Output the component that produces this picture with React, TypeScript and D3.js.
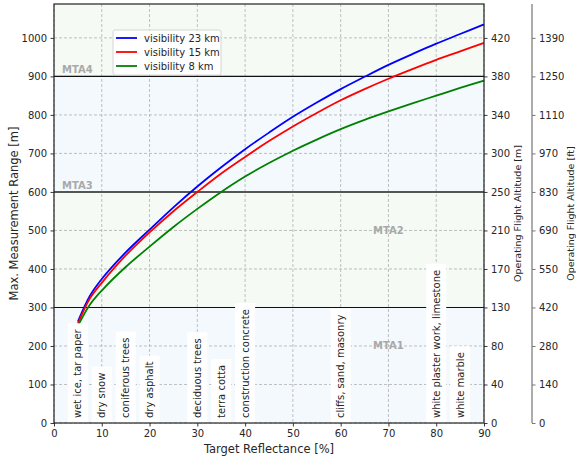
import React, { useRef, useEffect } from 'react'
import * as d3 from 'd3'

// target reflectance [%] and max. measurement range [m] per visibility
const reflectance = [5, 7.5, 10, 15, 20, 25, 30, 35, 40, 45, 50, 55, 60, 65, 70, 75, 80, 85, 90]
const range23km = [263, 330, 374, 443, 502, 560, 614, 664, 711, 754, 795, 832, 867, 899, 930, 958, 985, 1010, 1035]
const range15km = [258, 323, 364, 435, 495, 550, 600, 648, 691, 732, 770, 805, 838, 867, 894, 919, 943, 965, 987]
const range8km = [252, 307, 344, 405, 458, 509, 556, 600, 640, 675, 707, 736, 763, 787, 809, 830, 850, 870, 889]
const seriesLabels = ['visibility 23 km', 'visibility 15 km', 'visibility 8 km']
const seriesColors = ['#0000ff', '#ff0000', '#008000']

const rangeTicks = [0, 100, 200, 300, 400, 500, 600, 700, 800, 900, 1000]
const altitudeMLabels = ['0', '40', '80', '130', '170', '210', '250', '300', '340', '380', '420']
const altitudeFtLabels = ['0', '140', '280', '420', '550', '690', '830', '970', '1110', '1250', '1390']
const reflectanceTicks = [0, 10, 20, 30, 40, 50, 60, 70, 80, 90]

const mtaBoundaries = [300, 600, 900]
const mtaNames = ['MTA1', 'MTA2', 'MTA3', 'MTA4']

const materialNames = [
  'wet ice, tar paper',
  'dry snow',
  'coniferous trees',
  'dry asphalt',
  'deciduous trees',
  'terra cotta',
  'construction concrete',
  'cliffs, sand, masonry',
  'white plaster work, limestone',
  'white marble'
]
const materialReflectance = [5, 10, 15, 20, 30, 35, 40, 60, 80, 85]

const W = 576
const H = 461
const FONT = 'DejaVu Sans, sans-serif'
const TXT = '#262626'

export default function App() {
  const svgRef = useRef<SVGSVGElement>(null)

  useEffect(() => {
    const svg = d3.select(svgRef.current)
    svg.selectAll('*').remove()

    const left = 54
    const right = 484
    const top = 4
    const bottom = 423
    const yMax = 1088

    const x = d3.scaleLinear().domain([0, 90]).range([left, right])
    const y = d3.scaleLinear().domain([0, yMax]).range([bottom, top])

    // MTA bands
    const edges = [0, ...mtaBoundaries, yMax]
    svg
      .append('g')
      .selectAll('rect')
      .data(d3.range(edges.length - 1))
      .join('rect')
      .attr('x', left)
      .attr('width', right - left)
      .attr('y', i => y(edges[i + 1]))
      .attr('height', i => y(edges[i]) - y(edges[i + 1]))
      .attr('fill', i => (i % 2 === 0 ? '#f4f9fe' : '#f5fbf4'))

    // grid
    const grid = svg.append('g').attr('stroke', '#b0b0b0').attr('stroke-width', 0.8).attr('stroke-dasharray', '3,2')
    reflectanceTicks.forEach(t => {
      grid.append('line').attr('x1', x(t)).attr('x2', x(t)).attr('y1', top).attr('y2', bottom)
    })
    rangeTicks.forEach(t => {
      grid.append('line').attr('x1', left).attr('x2', right).attr('y1', y(t)).attr('y2', y(t))
    })

    // MTA boundary lines
    mtaBoundaries.forEach((b, i) => {
      svg
        .append('line')
        .attr('x1', left)
        .attr('x2', right)
        .attr('y1', y(b))
        .attr('y2', y(b))
        .attr('stroke', i === 1 ? '#555555' : '#111111')
        .attr('stroke-width', i === 1 ? 2 : 1.1)
    })

    // MTA labels
    const mtaG = svg
      .append('g')
      .attr('font-family', FONT)
      .attr('font-size', 10)
      .attr('font-weight', 'bold')
      .attr('fill', '#a9a9a9')
    mtaG
      .append('text')
      .attr('x', x(70))
      .attr('y', y(200))
      .attr('text-anchor', 'middle')
      .attr('dominant-baseline', 'central')
      .text(mtaNames[0])
    mtaG
      .append('text')
      .attr('x', x(70))
      .attr('y', y(500))
      .attr('text-anchor', 'middle')
      .attr('dominant-baseline', 'central')
      .text(mtaNames[1])
    mtaG.append('text').attr('x', x(1.7)).attr('y', y(608)).text(mtaNames[2])
    mtaG.append('text').attr('x', x(1.7)).attr('y', y(908)).text(mtaNames[3])

    // curves
    const allSeries = [range23km, range15km, range8km]
    const line = d3
      .line<number>()
      .curve(d3.curveCatmullRom.alpha(0.5))
      .x((_, i) => x(reflectance[i]))
      .y(d => y(d))
    allSeries.forEach((s, i) => {
      svg
        .append('path')
        .datum(s)
        .attr('fill', 'none')
        .attr('stroke', seriesColors[i])
        .attr('stroke-width', 1.8)
        .attr('d', line)
    })

    // material annotations
    const matG = svg.append('g').attr('font-family', FONT).attr('font-size', 10).attr('fill', TXT)
    materialNames.forEach((name, i) => {
      const cx = x(materialReflectance[i])
      const startY = bottom - 5
      const box = matG.append('rect').attr('fill', 'white')
      const t = matG
        .append('text')
        .attr('transform', `translate(${cx},${startY}) rotate(-90)`)
        .attr('dominant-baseline', 'central')
        .text(name)
      const len = (t.node() as SVGTextElement).getComputedTextLength()
      box
        .attr('x', cx - 10)
        .attr('width', 20)
        .attr('y', startY - len - 6)
        .attr('height', bottom - (startY - len - 6))
    })

    // legend
    const lg = svg.append('g').attr('font-family', FONT).attr('font-size', 10)
    lg.append('rect')
      .attr('x', 113)
      .attr('y', 30)
      .attr('width', 108)
      .attr('height', 45)
      .attr('rx', 2)
      .attr('fill', 'white')
      .attr('fill-opacity', 0.85)
      .attr('stroke', '#cccccc')
      .attr('stroke-width', 0.8)
    seriesLabels.forEach((lab, i) => {
      const ly = 38 + i * 14
      lg.append('line')
        .attr('x1', 116)
        .attr('x2', 137)
        .attr('y1', ly)
        .attr('y2', ly)
        .attr('stroke', seriesColors[i])
        .attr('stroke-width', 1.8)
      lg.append('text').attr('x', 144).attr('y', ly).attr('dominant-baseline', 'central').attr('fill', TXT).text(lab)
    })

    // axes
    const styleAxis = (g: d3.Selection<SVGGElement, unknown, null, undefined>, color: string) => {
      g.attr('font-family', FONT).attr('font-size', 10)
      g.select('.domain').remove()
      g.selectAll('.tick line').attr('stroke', color).attr('stroke-width', 0.9)
      g.selectAll('.tick text').attr('fill', TXT)
    }

    svg
      .append('g')
      .attr('transform', `translate(${left},0)`)
      .call(d3.axisLeft(y).tickValues(rangeTicks).tickSize(3.5).tickPadding(3.5).tickFormat(d3.format('d')))
      .call(g => styleAxis(g, '#222'))

    svg
      .append('g')
      .attr('transform', `translate(0,${bottom})`)
      .call(d3.axisBottom(x).tickValues(reflectanceTicks).tickSize(3.5).tickPadding(3.5))
      .call(g => styleAxis(g, '#222'))

    svg
      .append('g')
      .attr('transform', `translate(${right},0)`)
      .call(
        d3
          .axisRight(y)
          .tickValues(rangeTicks)
          .tickSize(3.5)
          .tickPadding(3.5)
          .tickFormat((_, i) => altitudeMLabels[i])
      )
      .call(g => styleAxis(g, '#222'))

    const ftX = 532
    svg
      .append('g')
      .attr('transform', `translate(${ftX},0)`)
      .call(
        d3
          .axisRight(y)
          .tickValues(rangeTicks)
          .tickSize(3.5)
          .tickPadding(3.5)
          .tickFormat((_, i) => altitudeFtLabels[i])
      )
      .call(g => styleAxis(g, '#666'))
    svg
      .append('line')
      .attr('x1', ftX)
      .attr('x2', ftX)
      .attr('y1', top)
      .attr('y2', bottom)
      .attr('stroke', '#808080')
      .attr('stroke-width', 1.3)

    // frame
    svg
      .append('rect')
      .attr('x', left)
      .attr('y', top)
      .attr('width', right - left)
      .attr('height', bottom - top)
      .attr('fill', 'none')
      .attr('stroke', '#222')
      .attr('stroke-width', 1.2)

    // axis titles
    const titles = svg.append('g').attr('font-family', FONT).attr('font-size', 11.5).attr('fill', TXT)
    const midY = (top + bottom) / 2
    titles
      .append('text')
      .attr('transform', `translate(14,${midY}) rotate(-90)`)
      .attr('text-anchor', 'middle')
      .attr('dominant-baseline', 'central')
      .text('Max. Measurement Range [m]')
    titles
      .append('text')
      .attr('x', (left + right) / 2)
      .attr('y', 453)
      .attr('text-anchor', 'middle')
      .text('Target Reflectance [%]')
    titles
      .append('text')
      .attr('transform', `translate(517,${midY}) rotate(-90)`)
      .attr('text-anchor', 'middle')
      .attr('dominant-baseline', 'central')
      .attr('font-size', 9.5)
      .text('Operating Flight Altitude [m]')
    titles
      .append('text')
      .attr('transform', `translate(570,${midY}) rotate(-90)`)
      .attr('text-anchor', 'middle')
      .attr('dominant-baseline', 'central')
      .attr('font-size', 9.5)
      .text('Operating Flight Altitude [ft]')
  }, [])

  return (
    <svg
      ref={svgRef}
      width={W}
      height={H}
      style={{ position: 'absolute', left: 0, top: 0, background: 'white' }}
    />
  )
}
